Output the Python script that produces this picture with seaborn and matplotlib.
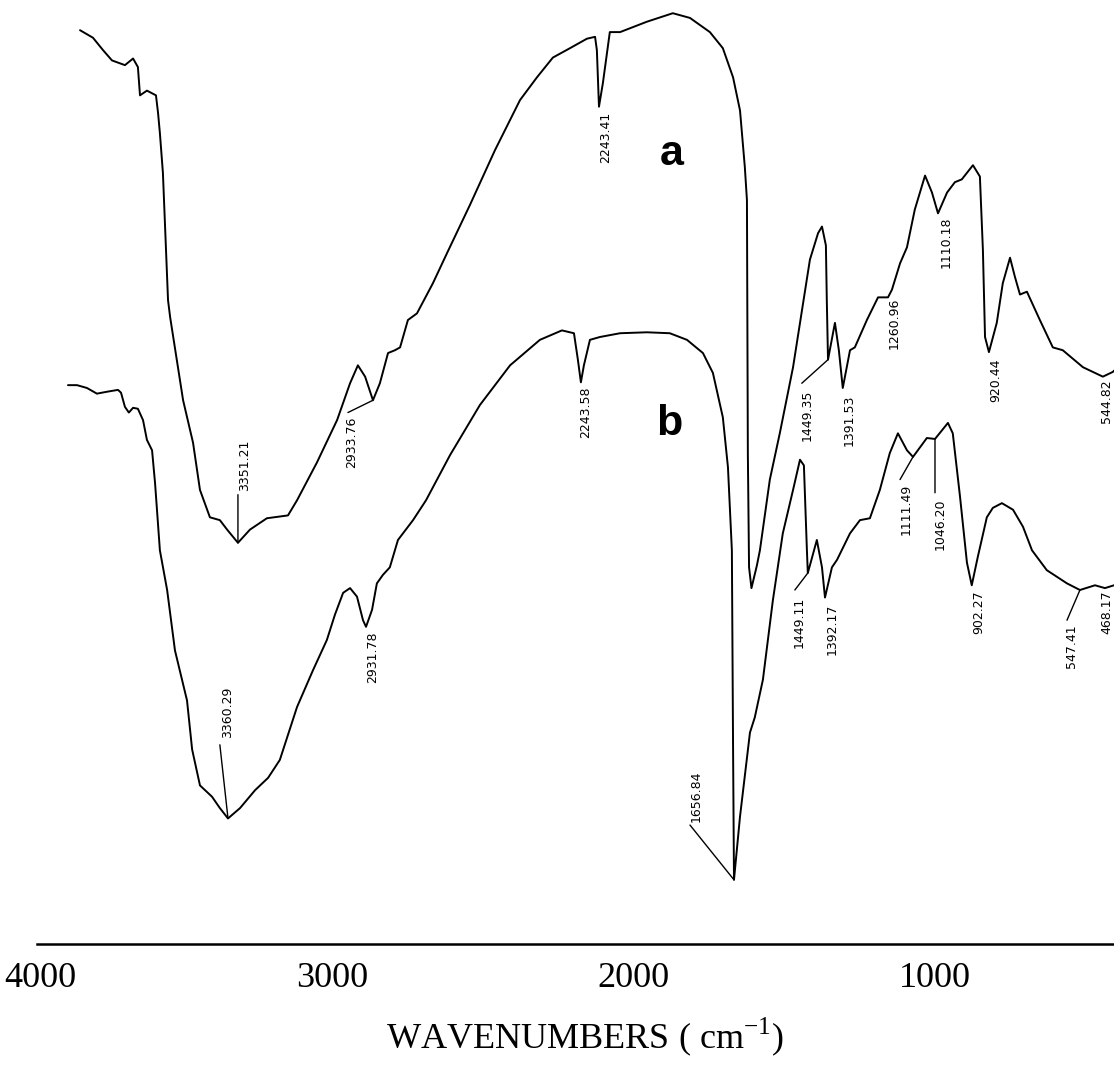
import matplotlib
matplotlib.use("Agg")
import numpy as np
import pandas as pd
import matplotlib.pyplot as plt
import matplotlib.transforms as mtransforms
import seaborn as sns

# ---------------- data (wavenumber, transmittance in arbitrary %T units) -------------
wn_a = [3836, 3793, 3760, 3730, 3687, 3660, 3644, 3637, 3614, 3584, 3577, 3571, 3561,
        3544, 3537, 3494, 3461, 3438, 3405, 3372, 3348, 3312, 3272, 3216, 3146, 3116,
        3050, 2983, 2940, 2914, 2890, 2864, 2841, 2814, 2791, 2774, 2748, 2718, 2665,
        2618, 2542, 2459, 2376, 2320, 2267, 2210, 2154, 2127, 2121, 2114, 2101, 2078,
        2044, 1955, 1869, 1812, 1746, 1703, 1669, 1646, 1630, 1623, 1620, 1616, 1608,
        1590, 1580, 1547, 1514, 1470, 1414, 1387, 1374, 1361, 1358, 1354, 1331, 1318,
        1305, 1281, 1265, 1225, 1188, 1155, 1142, 1115, 1092, 1066, 1032, 1009, 989,
        959, 933, 910, 873, 850, 840, 833, 820, 794, 774, 750, 734, 717, 694, 651, 608,
        575, 508, 442, 409, 386]
t_a = [96.8, 96.0, 94.7, 93.6, 93.1, 93.8, 92.9, 89.9, 90.4, 89.9, 88.0, 85.9, 81.7,
       68.2, 66.4, 57.6, 53.1, 48.1, 45.2, 44.9, 43.9, 42.5, 43.9, 45.1, 45.4, 47.0,
       51.0, 55.5, 59.4, 61.3, 60.1, 57.6, 59.4, 62.6, 62.9, 63.2, 66.1, 66.8, 70.0,
       73.2, 78.3, 84.1, 89.4, 91.8, 93.9, 94.9, 95.9, 96.1, 94.7, 88.7, 91.2, 96.6,
       96.6, 97.7, 98.6, 98.1, 96.6, 94.9, 91.8, 88.3, 82.3, 78.8, 52.0, 39.9, 37.7,
       40.1, 41.7, 49.2, 54.1, 61.1, 72.5, 75.3, 76.0, 74.0, 68.2, 61.9, 65.8, 62.9,
       58.9, 62.9, 63.2, 66.1, 68.5, 68.5, 69.3, 72.1, 73.8, 77.8, 81.4, 79.6, 77.4,
       79.6, 80.7, 81.0, 82.5, 81.3, 73.5, 64.3, 62.7, 65.8, 70.0, 72.7, 70.7, 68.8,
       69.1, 66.1, 63.2, 62.9, 61.1, 60.1, 60.6, 61.3]

wn_b = [3876, 3846, 3813, 3780, 3747, 3710, 3700, 3687, 3674, 3660, 3644, 3627, 3614,
        3597, 3587, 3571, 3547, 3521, 3481, 3464, 3438, 3398, 3372, 3345, 3305, 3255,
        3212, 3173, 3116, 3063, 3017, 2990, 2963, 2940, 2917, 2897, 2887, 2867, 2851,
        2831, 2808, 2781, 2731, 2688, 2608, 2509, 2409, 2310, 2237, 2197, 2184, 2174,
        2164, 2144, 2111, 2044, 1955, 1879, 1822, 1769, 1736, 1703, 1686, 1673, 1669,
        1666, 1646, 1613, 1597, 1570, 1537, 1504, 1470, 1447, 1434, 1424, 1421, 1391,
        1374, 1364, 1341, 1324, 1281, 1248, 1215, 1182, 1149, 1122, 1092, 1072, 1026,
        999, 956, 940, 916, 893, 877, 857, 827, 807, 777, 740, 707, 677, 628, 561, 518,
        468, 435, 405]
t_b = [59.2, 59.2, 58.9, 58.3, 58.5, 58.7, 58.4, 56.9, 56.3, 56.8, 56.7, 55.5, 53.4,
       52.3, 48.8, 41.7, 37.5, 31.1, 25.8, 20.6, 16.8, 15.6, 14.4, 13.3, 14.4, 16.3,
       17.6, 19.5, 25.1, 29.0, 32.2, 34.9, 37.2, 37.7, 36.8, 34.3, 33.6, 35.4, 38.2,
       39.1, 39.9, 42.8, 44.9, 47.0, 51.8, 57.1, 61.3, 64.0, 65.0, 64.7, 61.9, 59.5,
       61.3, 64.0, 64.3, 64.7, 64.8, 64.7, 64.0, 62.6, 60.5, 55.8, 50.5, 41.7, 20.6,
       6.8, 13.5, 22.4, 24.0, 28.0, 36.4, 43.5, 48.1, 51.3, 50.7, 41.7, 39.3, 42.8,
       39.9, 36.7, 39.9, 40.7, 43.5, 44.9, 45.1, 48.1, 52.0, 54.1, 52.3, 51.6, 53.6,
       53.5, 55.2, 54.1, 47.4, 40.4, 38.0, 41.0, 45.2, 46.2, 46.7, 46.0, 44.2, 41.7,
       39.6, 38.2, 37.5, 38.0, 37.7, 38.0]

# peak labels: text, text centre (wn, T)
peak_text = ["3351.21", "2933.76", "2243.41", "1449.35", "1391.53", "1260.96",
             "1110.18", "920.44", "544.82",
             "3360.29", "2931.78", "2243.58", "1656.84", "1449.11", "1392.17",
             "1111.49", "1046.20", "902.27", "547.41", "468.17"]
text_pos = [(3289, 50.7), (2934, 53.1), (2091, 85.4), (1424, 56.0), (1285, 55.5),
            (1135, 65.7), (963, 74.3), (797, 59.7), (430, 57.5),
            (3348, 24.5), (2864, 30.4), (2157, 56.3), (1792, 15.7), (1450, 34.1),
            (1341, 33.3), (1095, 46.0), (983, 44.5), (853, 35.2), (545, 31.5), (430, 35.2)]
# leader lines: (peak point, end point)
leaders = [((3312, 42.5), (3312, 47.6)),
           ((2864, 57.6), (2947, 56.3)),
           ((1354, 61.9), (1441, 59.4)),
           ((3345, 13.3), (3372, 21.1)),
           ((1666, 6.8), (1812, 12.6)),
           ((1421, 39.3), (1464, 37.5)),
           ((1072, 51.6), (1115, 49.2)),
           ((999, 53.5), (999, 47.8)),
           ((518, 37.5), (561, 34.3))]

xticks_major = [4000, 3000, 2000, 1000]
xticks_minor = [3500, 2500, 1500, 500]

# ---------------- figure ------------------------------------------------------------------
sns.set_style("white")
plt.rcParams["font.family"] = ["DejaVu Sans"]
plt.rcParams["text.color"] = "black"

W, H = 1114, 1074
fig = plt.figure(figsize=(W / 100, H / 100), dpi=100)
left_px = 29.1
ax = fig.add_axes([left_px / W, 130 / H, (W - left_px) / W, 944 / H])

df_a = pd.DataFrame({"wn": wn_a, "T": t_a})
df_b = pd.DataFrame({"wn": wn_b, "T": t_b})
sns.lineplot(data=df_a, x="wn", y="T", sort=False, estimator=None, color="black",
             lw=1.4, ax=ax)
sns.lineplot(data=df_b, x="wn", y="T", sort=False, estimator=None, color="black",
             lw=1.4, ax=ax)

ax.set_xlim(4005, 405)
ax.set_ylim(0, 100)

for (p0, p1) in leaders:
    ax.annotate("", xy=p0, xytext=p1,
                arrowprops=dict(arrowstyle="-", color="black", lw=1.0,
                                shrinkA=0, shrinkB=0))

for txt, (x, y) in zip(peak_text, text_pos):
    ax.text(x, y, txt, rotation=90, ha="center", va="center", fontsize=9,
            family=["Liberation Sans Narrow", "DejaVu Sans"], color="black",
            clip_on=False)

ax.text(1872, 83.7, "a", fontsize=31, fontweight="bold", ha="center", va="center",
        family=["Liberation Sans", "DejaVu Sans"], color="black")
ax.text(1882, 55.1, "b", fontsize=31, fontweight="bold", ha="center", va="center",
        family=["Liberation Sans", "DejaVu Sans"], color="black")

for s in ["left", "right", "top"]:
    ax.spines[s].set_visible(False)
ax.spines["bottom"].set_linewidth(1.8)
ax.spines["bottom"].set_color("black")
ax.spines["bottom"].set_bounds(3978, 405)

ax.set_xticks(xticks_major)
ax.set_xticks(xticks_minor, minor=True)
ax.set_xticklabels([str(v) for v in xticks_major], family=["Liberation Serif"],
                   fontsize=26, color="black")
ax.tick_params(axis="x", which="major", direction="out", length=6, width=1.2,
               pad=7, colors="black")
ax.tick_params(axis="x", which="minor", direction="out", length=5, width=1.0,
               colors="black")
# nudge the first label (4000) right so it stays on the page, as in the original
lbl0 = ax.get_xticklabels()[0]
lbl0.set_transform(lbl0.get_transform() +
                   mtransforms.ScaledTranslation(10 / 100, 0, fig.dpi_scale_trans))
ax.set_yticks([])
ax.set_xlabel("")
ax.set_ylabel("")

fig.text(585 / W, 1 - 1037 / H, r"WAVENUMBERS ( cm$^{\mathregular{-1}}$)",
         ha="center", va="center", fontsize=26, family=["Liberation Serif"],
         color="black")

fig.savefig("out.png", dpi=100, facecolor="white")
